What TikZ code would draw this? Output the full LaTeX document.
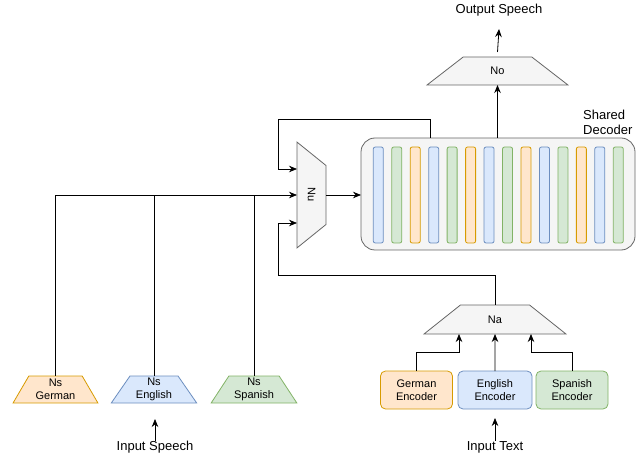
\documentclass[tikz,border=0pt]{standalone}
\usepackage{fontspec}
\setmainfont{Liberation Sans}
\usetikzlibrary{shapes.geometric,arrows.meta,calc}
\definecolor{bfill}{HTML}{DAE8FC}\definecolor{bdraw}{HTML}{6C8EBF}
\definecolor{gfill}{HTML}{D5E8D4}\definecolor{gdraw}{HTML}{82B366}
\definecolor{ofill}{HTML}{FFE6CC}\definecolor{odraw}{HTML}{D79B00}
\definecolor{kfill}{HTML}{F5F5F5}\definecolor{kdraw}{HTML}{666666}
\tikzset{
  small/.style={font=\fontsize{11}{13.5}\selectfont},
  big/.style={font=\fontsize{13}{15}\selectfont},
  trap/.style={trapezium, trapezium stretches=true, inner sep=0pt, outer sep=0pt, line width=0.8pt, small, align=center},
  blueS/.style={fill=bfill, draw=bdraw},
  greenS/.style={fill=gfill, draw=gdraw},
  orangeS/.style={fill=ofill, draw=odraw},
  grayS/.style={fill=kfill, draw=kdraw},
  encbox/.style={rectangle, rounded corners=5pt, minimum width=72pt, minimum height=38pt, inner sep=0pt, outer sep=0pt, line width=0.8pt, small, align=center},
  bar/.style={rectangle, rounded corners=2pt, minimum width=10pt, minimum height=96pt, inner sep=0pt, line width=0.8pt},
  conn/.style={line width=0.8pt, black},
  arr/.style={conn, -{Stealth[length=8pt,width=6.5pt]}},
}
\begin{document}
\begin{tikzpicture}[x=1pt,y=-1pt]
\useasboundingbox (0,0) rectangle (637,454);
% shared decoder
\node[rectangle, rounded corners=14pt, grayS, line width=0.8pt, minimum width=274pt, minimum height=112pt, inner sep=0pt, outer sep=0pt] (dec) at (498,194) {};
\foreach \i/\s in {0/blueS,1/greenS,2/orangeS,3/blueS,4/greenS,5/orangeS,6/blueS,7/greenS,8/orangeS,9/blueS,10/greenS,11/orangeS,12/blueS,13/greenS}{
  \node[bar,\s] (bar\i) at ({378.3+18.46*\i},195) {};
}
\node[small, anchor=west, align=left, inner sep=0pt, font=\fontsize{13}{15}\selectfont] (declab) at (583,122) {Shared\\Decoder};
% mux Nu
\node[trap, grayS, minimum width=106pt, minimum height=29pt, trapezium left angle=54, trapezium right angle=54, rotate=-90] (nu) at (311.5,195) {Nu};
% output
\node[trap, grayS, minimum width=141pt, minimum height=28pt, trapezium left angle=46, trapezium right angle=46] (no) at (497.5,71) {No};
\node[big, inner sep=0pt] (out) at (499,10) {Output Speech};
\coordinate (outtip) at (499,29);
% Na
\node[trap, grayS, minimum width=142pt, minimum height=29pt, trapezium left angle=46, trapezium right angle=46] (na) at (495,319.5) {Na};
% encoders
\node[encbox, orangeS] (encde) at (416.5,390) {German\\Encoder};
\node[encbox, blueS, minimum width=74pt] (encen) at (495,390) {English\\Encoder};
\node[encbox, greenS] (encsp) at (572,390) {Spanish\\Encoder};
\node[big, inner sep=0pt] (intext) at (495,447) {Input Text};
\coordinate (intip) at (495,418);
% Ns
\node[trap, orangeS, minimum width=85pt, minimum height=27pt, trapezium left angle=61, trapezium right angle=61] (nsde) at (55.5,389.5) {Ns\\German};
\node[trap, blueS, minimum width=86pt, minimum height=27pt, trapezium left angle=59, trapezium right angle=59] (nsen) at (154,389.5) {Ns\\English};
\node[trap, greenS, minimum width=86pt, minimum height=27pt, trapezium left angle=59, trapezium right angle=59] (nssp) at (254,389.5) {Ns\\Spanish};
\node[big, inner sep=0pt] (inspeech) at (155,447) {Input Speech};
\coordinate (sptip) at (155,419);
% connectors
\draw[arr] (dec.north -| 430,0) -- (430,119) -- (278,119) -- (278,169) -- (nu.south |- 0,169);
\draw[arr] (nsde.north) |- (nu.south);
\draw[conn] (nsen.north) -- (nsen.north |- nu.south);
\draw[conn] (nssp.north) -- (nssp.north |- nu.south);
\draw[arr] (na.north) |- (278,275) |- (nu.south |- 0,223);
\draw[arr] (nu.north) -- (dec.west |- nu.north);
\draw[arr] (no.south |- dec.north) -- (no.south);
\draw[arr] ([yshift=5pt]no.north) -- (outtip);
\draw[arr] (encde.north) |- (459,352) -- (na.south -| 459,0);
\draw[arr] (encen.north) -- (na.south);
\draw[arr] (encsp.north) |- (531,352) -- (na.south -| 531,0);
\draw[arr] (intext.north) -- (intip);
\draw[arr] (inspeech.north) -- (sptip);
\end{tikzpicture}
\end{document}
